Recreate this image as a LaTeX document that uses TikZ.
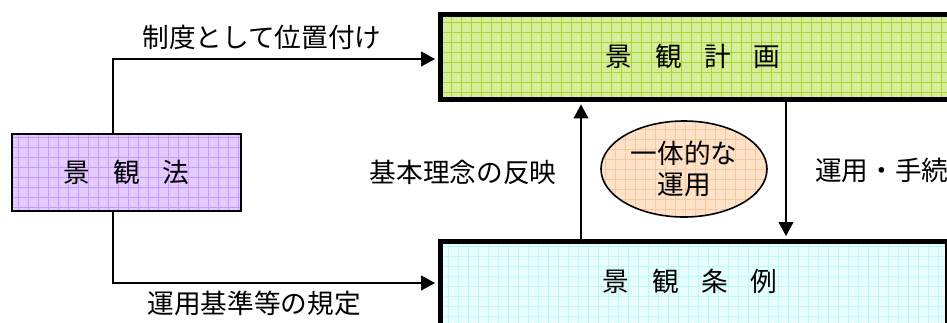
\documentclass[tikz,border=0pt]{standalone}
\usepackage{fontspec}
\setmainfont{Noto Sans CJK JP}
\usetikzlibrary{shapes.geometric,arrows.meta}
\definecolor{gfill}{HTML}{D6EE9A}
\definecolor{gline}{HTML}{A8D432}
\definecolor{pfill}{HTML}{E4CCFF}
\definecolor{pline}{HTML}{C79BFF}
\definecolor{cfill}{HTML}{E8FFFF}
\definecolor{cline}{HTML}{C4F6F6}
\definecolor{ofill}{HTML}{FFE2C8}
\definecolor{oline}{HTML}{F6C9A0}
\newcommand\mygrid[1]{%
  \foreach \i in {-40,...,40}{\draw[#1,line width=0.6pt] (\i*10+5,-400) -- (\i*10+5,400);}
  \foreach \j in {-40,...,40}{\draw[#1,line width=0.6pt] (-400,\j*10+5) -- (400,\j*10+5);}}
\newcommand\gp{\hspace{17pt}}
\tikzset{
  lbl/.style={font=\fontsize{20pt}{23pt}\selectfont, inner sep=0pt},
  arr/.style={line width=1.3pt, -{Triangle[length=10.5pt,width=11pt]}},
  thickbox/.style={draw, line width=3.75pt, rectangle, inner sep=0pt},
}
\begin{document}
\begin{tikzpicture}[x=0.75pt,y=-0.75pt]
\useasboundingbox (0,0) rectangle (947,322);
\fill[white] (0,0) rectangle (947,322);
% boxes
\node[draw, line width=1.5pt, fill=pfill, path picture={\mygrid{pline}},
      minimum width=171.75pt, minimum height=57.75pt, lbl] (hou) at (126.5,172.5) {景\gp 観\gp 法};
\node[thickbox, fill=gfill, path picture={\mygrid{gline}},
      minimum width=400pt, minimum height=63.75pt, anchor=west] (keikaku) at (437.5,57) {};
\node[thickbox, fill=cfill, path picture={\mygrid{cline}},
      minimum width=380.25pt, minimum height=120pt, anchor=north west] (jorei) at (437.5,238.5) {};
\node[lbl] (keikakut) at (693,56) {景\gp 観\gp 計\gp 画};
\node[lbl] (joreit) at (690,281) {景\gp 観\gp 条\gp 例};
% ellipse
\node[ellipse, draw, line width=1.2pt, fill=ofill, path picture={\mygrid{oline}},
      minimum width=124.5pt, minimum height=72pt, inner sep=0pt, align=center,
      font=\fontsize{20pt}{23pt}\selectfont] (ittai) at (684,169) {一体的な\\運用};
% helper coordinates
\coordinate (hx) at (113,0);
\coordinate (ty) at (0,59);
\coordinate (by) at (0,283);
\coordinate (ux) at (581,0);
\coordinate (dx) at (786,0);
% connectors
\draw[arr, shorten >=1.8pt] (hou.north -| hx) |- (keikaku.west |- ty);
\draw[arr, shorten >=1.8pt] (hou.south -| hx) |- (jorei.west |- by);
\draw[arr, shorten >=1.8pt] (jorei.north -| ux) -- (keikaku.south -| ux);
\draw[arr, shorten >=1.8pt] (keikaku.south -| dx) -- (jorei.north -| dx);
% labels
\node[lbl] (l1) at (262,37) {制度として位置付け};
\node[lbl] (l2) at (254,303) {運用基準等の規定};
\node[lbl] (l3) at (463,172) {基本理念の反映};
\node[lbl, anchor=west] (l4) at (815,170) {運用・手続};
\end{tikzpicture}
\end{document}
